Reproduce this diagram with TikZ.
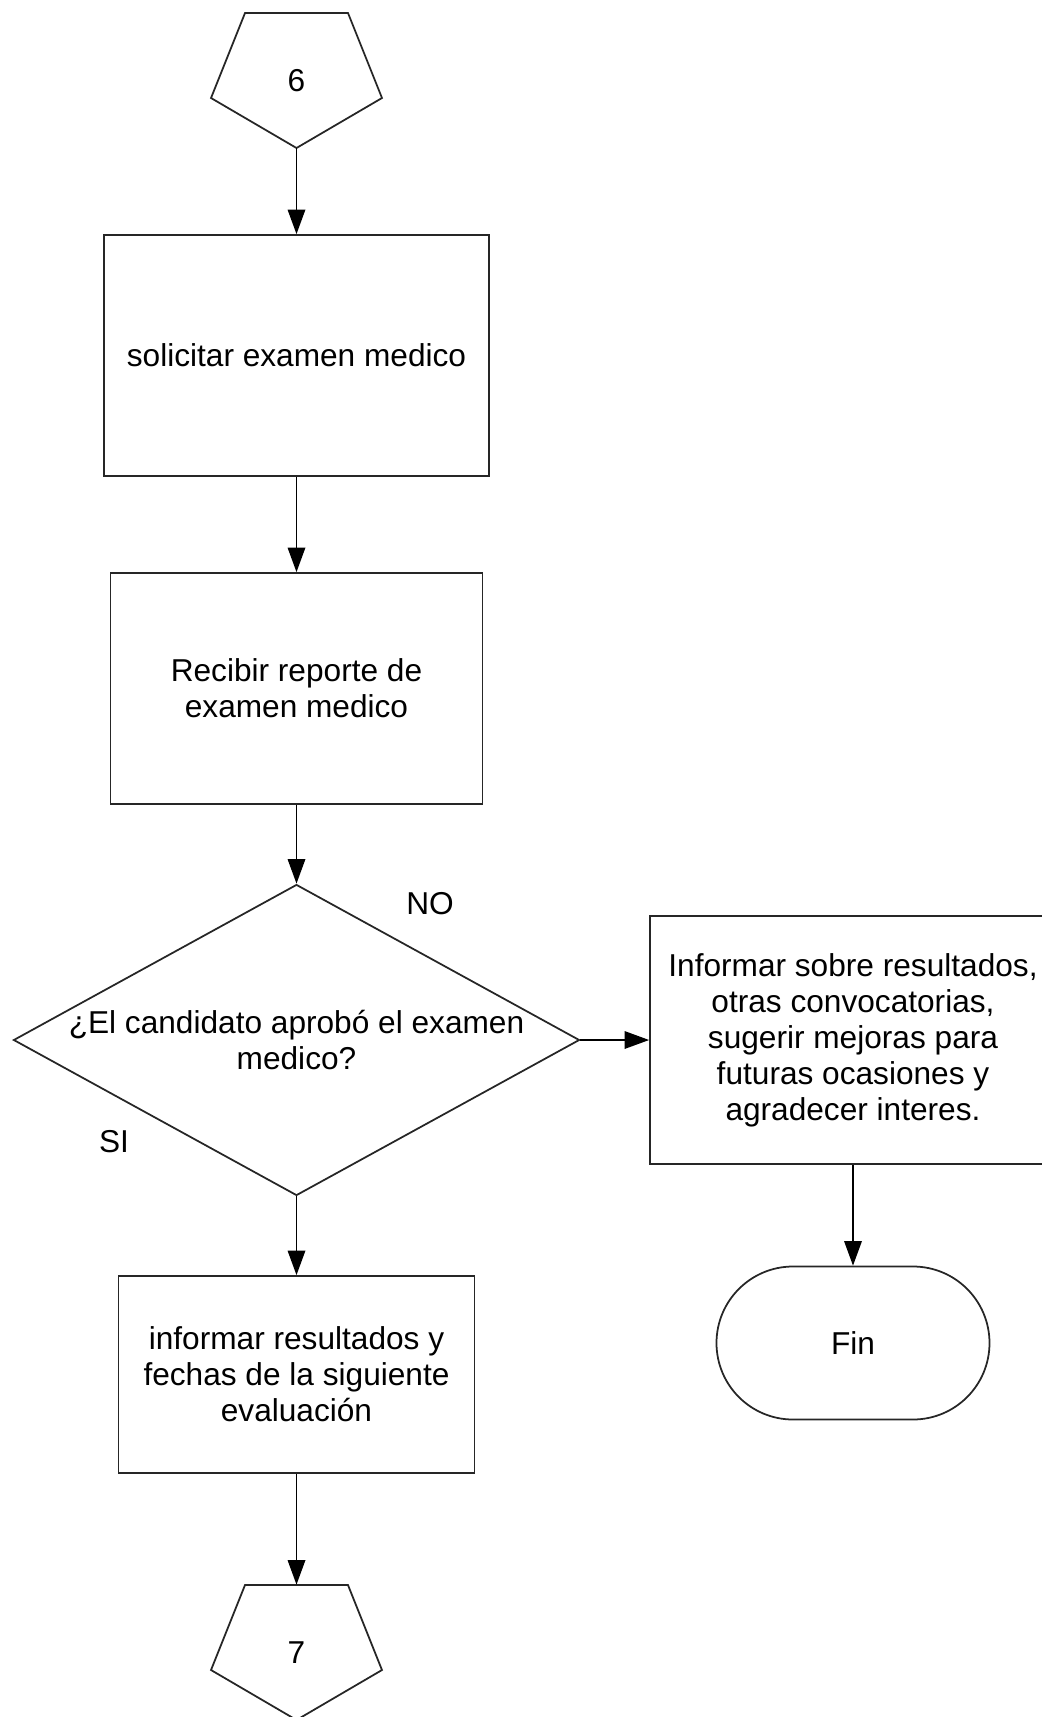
\documentclass[tikz,border=0pt]{standalone}
\usepackage{fontspec}
\setmainfont{Liberation Sans}
\usetikzlibrary{arrows.meta,calc,shapes.geometric}
\newcommand{\offpage}[1]{%
  \draw[outline] ($(#1)+(-1.03,1.35)$) -- ($(#1)+(1.03,1.35)$)
    -- ($(#1)+(1.71,-0.35)$) -- ($(#1)+(0,-1.35)$)
    -- ($(#1)+(-1.71,-0.35)$) -- cycle;}

\begin{document}
\begin{tikzpicture}[
  >={Triangle[length=14pt,width=10pt]},
  font=\fontsize{18}{20.5}\selectfont,
  outline/.style={line width=1pt, draw=black!85},
  proc/.style={outline, rectangle, align=center, inner sep=2pt},
  conn/.style={minimum width=3.42cm, minimum height=2.7cm, inner sep=0pt},
  flow/.style={->, line width=0.9pt}
]
\useasboundingbox (0,0) rectangle (20.84,-34.34);
% ---- main column ----
\node[conn] (p6) at (5.93,-1.61) {6};
\offpage{p6}
\node[proc, minimum width=7.7cm, minimum height=4.82cm] (solic) at (5.93,-7.11)
  {solicitar examen medico};
\node[proc, minimum width=7.44cm, minimum height=4.62cm] (recib) at (5.93,-13.77)
  {Recibir reporte de\\ examen medico};
\node[outline, diamond, minimum width=11.32cm, minimum height=6.22cm,
  inner sep=0pt] (aprob) at (5.93,-20.80) {};
\node[align=center] (aprobtxt) at (aprob) {¿El candidato aprobó el examen\\ medico?};
\node[proc, minimum width=7.12cm, minimum height=3.94cm] (infres) at (5.93,-27.49)
  {informar resultados y\\ fechas de la siguiente\\ evaluación};
\node[conn] (p7) at (5.93,-33.05) {7};
\offpage{p7}
% ---- rejected branch ----
\node[proc, minimum width=8.12cm, minimum height=4.96cm] (infrech) at (17.06,-20.80)
  {Informar sobre resultados,\\ otras convocatorias,\\ sugerir mejoras para\\
   futuras ocasiones y\\ agradecer interes.};
\node[outline, rectangle, rounded corners=1.53cm, minimum width=5.46cm,
  minimum height=3.06cm] (fin) at (17.06,-26.86) {Fin};
% ---- branch labels ----
\node (lblno) at (8.60,-18.08) {NO};
\node (lblsi) at (2.28,-22.84) {SI};
% ---- connectors ----
\draw[flow] (p6.south) -- (solic.north);
\draw[flow] (solic) -- (recib);
\draw[flow] (recib.south) -- (aprob.north);
\draw[flow] (aprob.east) -- (infrech.west);
\draw[flow] (aprob.south) -- (infres.north);
\draw[flow] (infrech) -- (fin);
\draw[flow] (infres.south) -- (p7.north);
\end{tikzpicture}
\end{document}
